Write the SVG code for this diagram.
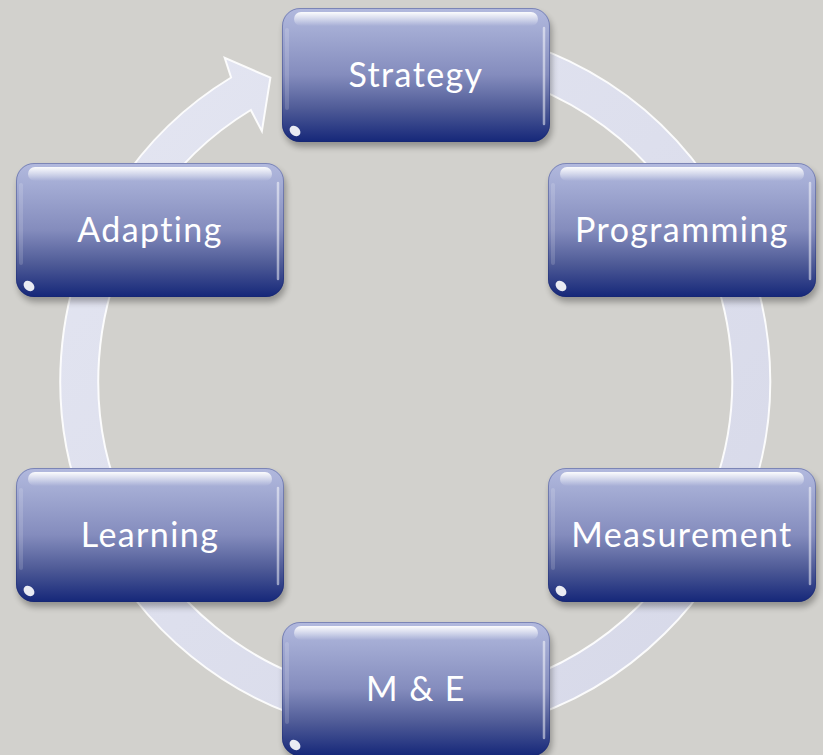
<svg xmlns="http://www.w3.org/2000/svg" xmlns:xlink="http://www.w3.org/1999/xlink" width="823" height="755" viewBox="0 0 823 755">
<style>
.lbl{font-family:Lato,"Gill Sans","Open Sans","Liberation Sans",sans-serif;font-size:34px;letter-spacing:1.4px;fill:#ffffff;text-anchor:middle}
</style>
<defs>
<linearGradient id="gBox" x1="0" y1="0" x2="0" y2="1">
<stop offset="0" stop-color="#b2b9de"/>
<stop offset="0.15" stop-color="#a5add5"/>
<stop offset="0.5" stop-color="#848cbd"/>
<stop offset="0.75" stop-color="#4f5b97"/>
<stop offset="1" stop-color="#152779"/>
</linearGradient>
<linearGradient id="gHi" x1="0" y1="0" x2="0" y2="1">
<stop offset="0" stop-color="#ffffff" stop-opacity="0.95"/>
<stop offset="1" stop-color="#ffffff" stop-opacity="0"/>
</linearGradient>
<linearGradient id="gRing" x1="0" y1="0" x2="1" y2="1">
<stop offset="0" stop-color="#e4e6f2"/>
<stop offset="1" stop-color="#d6d8e8"/>
</linearGradient>
<filter id="sh" x="-10%" y="-10%" width="120%" height="130%">
<feGaussianBlur stdDeviation="3"/>
</filter>
<g id="box">
<rect x="2" y="5" width="268" height="134" rx="18" fill="#000" opacity="0.3" filter="url(#sh)"/>
<rect x="0" y="0" width="268" height="134" rx="18" fill="url(#gBox)"/>
<rect x="0.5" y="0.5" width="267" height="133" rx="17.5" fill="none" stroke="#16256d" stroke-opacity="0.35"/>
<rect x="12" y="4" width="244" height="14" rx="7" fill="url(#gHi)"/>
<path d="M262 20 L262 116" fill="none" stroke="#ffffff" stroke-opacity="0.5" stroke-width="2.5" stroke-linecap="round"/>
<path d="M5 22 L5 100" fill="none" stroke="#ffffff" stroke-opacity="0.15" stroke-width="4" stroke-linecap="round"/>
<ellipse cx="13" cy="123" rx="6" ry="4.5" fill="#ffffff" opacity="0.9" transform="rotate(40 13 123)"/>
</g>
</defs>
<rect width="823" height="755" fill="#d2d1cd"/>
<g id="connectors">
<path d="M415 26 A355 355 0 1 1 231.1 77.5 L224.7 57.9 L270.4 77.7 L261.9 131.2 L250.8 110 A317 317 0 1 0 415 64 Z" fill="url(#gRing)" stroke="#ffffff" stroke-width="2" stroke-opacity="0.9"/>
</g>
<g id="strategy" transform="translate(282 8)">
<use xlink:href="#box"/>
<text class="lbl" x="134" y="79">Strategy</text>
</g>
<g id="programming" transform="translate(548 163)">
<use xlink:href="#box"/>
<text class="lbl" x="134" y="79">Programming</text>
</g>
<g id="measurement" transform="translate(548 468)">
<use xlink:href="#box"/>
<text class="lbl" x="134" y="79">Measurement</text>
</g>
<g id="me" transform="translate(282 622)">
<use xlink:href="#box"/>
<text class="lbl" x="134" y="79">M &amp; E</text>
</g>
<g id="learning" transform="translate(16 468)">
<use xlink:href="#box"/>
<text class="lbl" x="134" y="79">Learning</text>
</g>
<g id="adapting" transform="translate(16 163)">
<use xlink:href="#box"/>
<text class="lbl" x="134" y="79">Adapting</text>
</g>
</svg>
